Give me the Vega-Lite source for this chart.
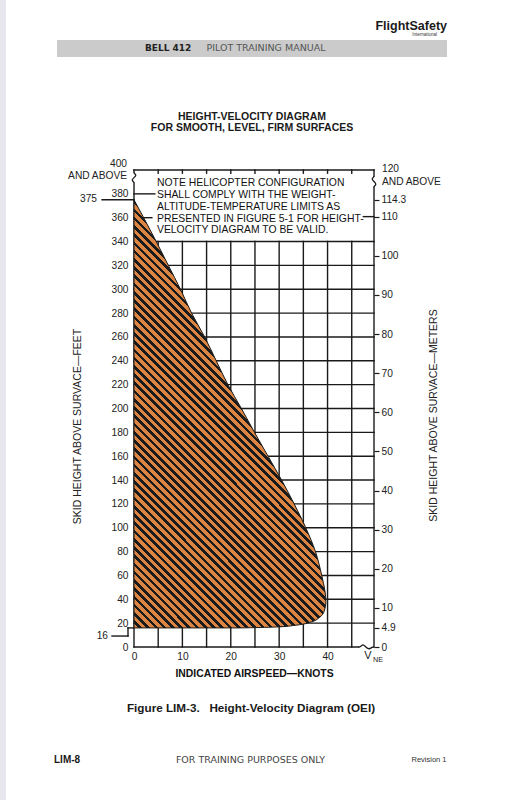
{
 "$schema": "https://vega.github.io/schema/vega-lite/v6.json",
 "width": 240,
 "height": 477,
 "autosize": {"type": "none"},
 "padding": {"left": 134, "top": 170, "right": 147, "bottom": 153},
 "background": "white",
 "config": {"view": {"stroke": null}, "font": "Liberation Sans", "axis": {"labelFont": "Liberation Sans", "titleFont": "Liberation Sans"}, "text": {"font": "Liberation Sans"}},
 "datasets": {
  "edge": [{"kn": -27.69, "kn2": -26.45, "ft": 542.5, "ft2": -129.4}],
  "band": [{"kn": -15.91, "kn2": 64.69, "ft": 509.0, "ft2": 494.8}],
  "rules": [
   {"kn": 0, "kn2": 0, "ft": 0, "ft2": 389},
   {"kn": 0, "kn2": 0, "ft": 398, "ft2": 400},
   {"kn": 0, "kn2": 49.6, "ft": 400, "ft2": 400},
   {"kn": 49.6, "kn2": 49.6, "ft": 0, "ft2": 385.5},
   {"kn": 49.6, "kn2": 49.6, "ft": 395, "ft2": 400},
   {"kn": 0, "kn2": 46.4, "ft": 0, "ft2": 0},
   {"kn": 0, "kn2": 49.6, "ft": 20, "ft2": 20},
   {"kn": 0, "kn2": 49.6, "ft": 40, "ft2": 40},
   {"kn": 0, "kn2": 49.6, "ft": 60, "ft2": 60},
   {"kn": 0, "kn2": 49.6, "ft": 80, "ft2": 80},
   {"kn": 0, "kn2": 49.6, "ft": 100, "ft2": 100},
   {"kn": 0, "kn2": 49.6, "ft": 120, "ft2": 120},
   {"kn": 0, "kn2": 49.6, "ft": 140, "ft2": 140},
   {"kn": 0, "kn2": 49.6, "ft": 160, "ft2": 160},
   {"kn": 0, "kn2": 49.6, "ft": 180, "ft2": 180},
   {"kn": 0, "kn2": 49.6, "ft": 200, "ft2": 200},
   {"kn": 0, "kn2": 49.6, "ft": 220, "ft2": 220},
   {"kn": 0, "kn2": 49.6, "ft": 240, "ft2": 240},
   {"kn": 0, "kn2": 49.6, "ft": 260, "ft2": 260},
   {"kn": 0, "kn2": 49.6, "ft": 280, "ft2": 280},
   {"kn": 0, "kn2": 49.6, "ft": 300, "ft2": 300},
   {"kn": 0, "kn2": 49.6, "ft": 320, "ft2": 320},
   {"kn": 0, "kn2": 49.6, "ft": 340, "ft2": 340},
   {"kn": 5, "kn2": 5, "ft": 0, "ft2": 340},
   {"kn": 10, "kn2": 10, "ft": 0, "ft2": 340},
   {"kn": 15, "kn2": 15, "ft": 0, "ft2": 340},
   {"kn": 20, "kn2": 20, "ft": 0, "ft2": 340},
   {"kn": 25, "kn2": 25, "ft": 0, "ft2": 340},
   {"kn": 30, "kn2": 30, "ft": 0, "ft2": 340},
   {"kn": 35, "kn2": 35, "ft": 0, "ft2": 340},
   {"kn": 40, "kn2": 40, "ft": 0, "ft2": 340},
   {"kn": 45, "kn2": 45, "ft": 0, "ft2": 340},
   {"kn": 5, "kn2": 5, "ft": 397.3, "ft2": 400},
   {"kn": 10, "kn2": 10, "ft": 397.3, "ft2": 400},
   {"kn": 15, "kn2": 15, "ft": 397.3, "ft2": 400},
   {"kn": 20, "kn2": 20, "ft": 397.3, "ft2": 400},
   {"kn": 25, "kn2": 25, "ft": 397.3, "ft2": 400},
   {"kn": 30, "kn2": 30, "ft": 397.3, "ft2": 400},
   {"kn": 35, "kn2": 35, "ft": 397.3, "ft2": 400},
   {"kn": 40, "kn2": 40, "ft": 397.3, "ft2": 400},
   {"kn": 45, "kn2": 45, "ft": 397.3, "ft2": 400},
   {"kn": 0, "kn2": 4.3, "ft": 380, "ft2": 380},
   {"kn": 0, "kn2": 3.7, "ft": 360, "ft2": 360},
   {"kn": 47.4, "kn2": 49.6, "ft": 360.9, "ft2": 360.9},
   {"kn": -6.6, "kn2": 0, "ft": 375, "ft2": 375},
   {"kn": -4.55, "kn2": -1.24, "ft": 9.2, "ft2": 9.2},
   {"kn": -1.24, "kn2": -1.24, "ft": 9.2, "ft2": 16},
   {"kn": -1.24, "kn2": 0, "ft": 16, "ft2": 16}
  ],
  "hatch": [
   {"ft": 16, "kn": 22},
   {"ft": 16.7, "kn": 29},
   {"ft": 18.3, "kn": 33.5},
   {"ft": 21, "kn": 36.6},
   {"ft": 25, "kn": 38.4},
   {"ft": 30, "kn": 39.3},
   {"ft": 38, "kn": 39.65},
   {"ft": 46, "kn": 39.5},
   {"ft": 60, "kn": 38.8},
   {"ft": 80, "kn": 37.5},
   {"ft": 100, "kn": 35.5},
   {"ft": 120, "kn": 33.1},
   {"ft": 140, "kn": 30.5},
   {"ft": 160, "kn": 27.7},
   {"ft": 180, "kn": 24.9},
   {"ft": 200, "kn": 22.2},
   {"ft": 220, "kn": 19.4},
   {"ft": 240, "kn": 17.0},
   {"ft": 260, "kn": 14.6},
   {"ft": 280, "kn": 11.9},
   {"ft": 300, "kn": 9.6},
   {"ft": 320, "kn": 7.1},
   {"ft": 340, "kn": 4.6},
   {"ft": 360, "kn": 2.0},
   {"ft": 375, "kn": 0}
  ],
  "brk": [
   {"g": "L", "i": 0, "kn": 0, "ft": 398},
   {"g": "L", "i": 1, "kn": 0, "ft": 397.2},
   {"g": "L", "i": 2, "kn": 0.55, "ft": 395.8},
   {"g": "L", "i": 3, "kn": 0, "ft": 393.6},
   {"g": "L", "i": 4, "kn": -0.55, "ft": 391.4},
   {"g": "L", "i": 5, "kn": 0, "ft": 390},
   {"g": "L", "i": 6, "kn": 0, "ft": 389},
   {"g": "R", "i": 0, "kn": 49.6, "ft": 395},
   {"g": "R", "i": 1, "kn": 49.6, "ft": 394.2},
   {"g": "R", "i": 2, "kn": 49.05, "ft": 392.6},
   {"g": "R", "i": 3, "kn": 49.6, "ft": 390.3},
   {"g": "R", "i": 4, "kn": 50.15, "ft": 388},
   {"g": "R", "i": 5, "kn": 49.6, "ft": 386.3},
   {"g": "R", "i": 6, "kn": 49.6, "ft": 385.5},
   {"g": "B", "i": 0, "kn": 46.4, "ft": 0},
   {"g": "B", "i": 1, "kn": 46.8, "ft": 0},
   {"g": "B", "i": 2, "kn": 47.3, "ft": 2.6},
   {"g": "B", "i": 3, "kn": 47.9, "ft": 0},
   {"g": "B", "i": 4, "kn": 48.6, "ft": -2.2},
   {"g": "B", "i": 5, "kn": 49.2, "ft": 0},
   {"g": "B", "i": 6, "kn": 49.6, "ft": 0}
  ],
  "lblR": [
   {"kn": -1.45, "ft": 405, "t": "400"},
   {"kn": -1.45, "ft": 395, "t": "AND ABOVE"},
   {"kn": -7.65, "ft": 375.7, "t": "375"},
   {"kn": -5.37, "ft": 9.2, "t": "16"}
  ],
  "lblL": [
   {"kn": 51.25, "ft": 400.8, "t": "120"},
   {"kn": 51.25, "ft": 389.9, "t": "AND ABOVE"}
  ],
  "note": [
   {"kn": 4.75, "ft": 388.9, "t": "NOTE HELICOPTER CONFIGURATION"},
   {"kn": 4.75, "ft": 379.1, "t": "SHALL COMPLY WITH THE WEIGHT-"},
   {"kn": 4.75, "ft": 369.2, "t": "ALTITUDE-TEMPERATURE LIMITS AS"},
   {"kn": 4.75, "ft": 359.1, "t": "PRESENTED IN FIGURE 5-1 FOR HEIGHT-"},
   {"kn": 4.75, "ft": 349.4, "t": "VELOCITY DIAGRAM TO BE VALID."}
  ],
  "vne": [{"kn": 48.36, "ft": -7.5, "t": "V"}],
  "ne": [{"kn": 50.43, "ft": -10.9, "t": "NE"}],
  "title": [
   {"kn": 24.39, "ft": 444.4, "t": "HEIGHT-VELOCITY DIAGRAM"},
   {"kn": 24.39, "ft": 435.2, "t": "FOR SMOOTH, LEVEL, FIRM SURFACES"}
  ],
  "caption": [{"kn": 24.18, "ft": -51.15, "t": "Figure LIM-3.\u00a0\u00a0 Height-Velocity Diagram (OEI)"}],
  "bell": [{"kn": 2.27, "ft": 501.9, "t": "BELL 412"}],
  "ptm": [{"kn": 27.28, "ft": 501.9, "t": "PILOT TRAINING MANUAL"}],
  "fs": [{"kn": 64.69, "ft": 520.8, "t": "FlightSafety"}],
  "intl": [{"kn": 62.62, "ft": 513.2, "t": "International"}],
  "lim": [{"kn": -16.53, "ft": -94.8, "t": "LIM-8"}],
  "ftp": [{"kn": 24.08, "ft": -94.8, "t": "FOR TRAINING PURPOSES ONLY"}],
  "rev": [{"kn": 60.97, "ft": -94.8, "t": "Revision 1"}],
  "mrows": [{"m": 0}, {"m": 121.92}]
 },
 "layer": [
  {
   "layer": [
    {
     "data": {"name": "rules"},
     "mark": {"type": "rule", "color": "#1a1a1a", "strokeWidth": 1.4, "strokeCap": "square"},
     "encoding": {
      "x": {"field": "kn", "type": "quantitative", "scale": {"domain": [0, 49.6], "nice": false, "zero": false},
       "axis": {"values": [0, 10, 20, 30, 40], "tickCount": 20, "domain": false, "ticks": false, "grid": false, "labelFlush": false, "labelOverlap": false, "labelFontSize": 10.2, "labelColor": "#222", "labelPadding": 4, "title": "INDICATED AIRSPEED—KNOTS", "titleFontSize": 10.4, "titleFontWeight": "bold", "titleColor": "#111", "titleY": 26, "titleBaseline": "middle"}},
      "x2": {"field": "kn2"},
      "y": {"field": "ft", "type": "quantitative", "scale": {"domain": [0, 400], "nice": false, "zero": false},
       "axis": {"values": [0, 20, 40, 60, 80, 100, 120, 140, 160, 180, 200, 220, 240, 260, 280, 300, 320, 340, 360, 380], "tickCount": 40, "domain": false, "ticks": false, "grid": false, "labelFlush": false, "labelOverlap": false, "labelFontSize": 10.2, "labelColor": "#222", "labelPadding": 6, "title": "SKID HEIGHT ABOVE SURVACE—FEET", "titleFontSize": 10.5, "titleFontWeight": "normal", "titleColor": "#222", "titleX": -57, "titleY": 256, "titleAngle": 270, "titleAlign": "center", "titleBaseline": "middle"}},
      "y2": {"field": "ft2"}
     }
    },
    {
     "data": {"name": "edge"},
     "mark": {"type": "rect", "fill": "#e6e6ec"},
     "encoding": {
      "x": {"field": "kn", "type": "quantitative", "scale": {"domain": [0, 49.6], "nice": false, "zero": false}},
      "x2": {"field": "kn2"},
      "y": {"field": "ft", "type": "quantitative", "scale": {"domain": [0, 400], "nice": false, "zero": false}},
      "y2": {"field": "ft2"}
     }
    },
    {
     "data": {"name": "band"},
     "mark": {"type": "rect", "fill": "#cbcbcb"},
     "encoding": {
      "x": {"field": "kn", "type": "quantitative", "scale": {"domain": [0, 49.6], "nice": false, "zero": false}},
      "x2": {"field": "kn2"},
      "y": {"field": "ft", "type": "quantitative", "scale": {"domain": [0, 400], "nice": false, "zero": false}},
      "y2": {"field": "ft2"}
     }
    },
    {
     "data": {"name": "hatch"},
     "mark": {
      "type": "area", "orient": "horizontal", "interpolate": "monotone", "stroke": "#1a1a1a", "strokeWidth": 1,
      "fill": {"gradient": "linear", "x1": 0, "y1": 1, "x2": 0.3733, "y2": 0.1674, "stops": [
       {"offset": 0, "color": "#dc8441"}, {"offset": 0.0106, "color": "#dc8441"}, {"offset": 0.0106, "color": "#1a1a1a"}, {"offset": 0.0192, "color": "#1a1a1a"},
       {"offset": 0.0192, "color": "#dc8441"}, {"offset": 0.0298, "color": "#dc8441"}, {"offset": 0.0298, "color": "#1a1a1a"}, {"offset": 0.0385, "color": "#1a1a1a"},
       {"offset": 0.0385, "color": "#dc8441"}, {"offset": 0.0491, "color": "#dc8441"}, {"offset": 0.0491, "color": "#1a1a1a"}, {"offset": 0.0577, "color": "#1a1a1a"},
       {"offset": 0.0577, "color": "#dc8441"}, {"offset": 0.0683, "color": "#dc8441"}, {"offset": 0.0683, "color": "#1a1a1a"}, {"offset": 0.0769, "color": "#1a1a1a"},
       {"offset": 0.0769, "color": "#dc8441"}, {"offset": 0.0875, "color": "#dc8441"}, {"offset": 0.0875, "color": "#1a1a1a"}, {"offset": 0.0962, "color": "#1a1a1a"},
       {"offset": 0.0962, "color": "#dc8441"}, {"offset": 0.1068, "color": "#dc8441"}, {"offset": 0.1068, "color": "#1a1a1a"}, {"offset": 0.1154, "color": "#1a1a1a"},
       {"offset": 0.1154, "color": "#dc8441"}, {"offset": 0.126, "color": "#dc8441"}, {"offset": 0.126, "color": "#1a1a1a"}, {"offset": 0.1346, "color": "#1a1a1a"},
       {"offset": 0.1346, "color": "#dc8441"}, {"offset": 0.1452, "color": "#dc8441"}, {"offset": 0.1452, "color": "#1a1a1a"}, {"offset": 0.1538, "color": "#1a1a1a"},
       {"offset": 0.1538, "color": "#dc8441"}, {"offset": 0.1644, "color": "#dc8441"}, {"offset": 0.1644, "color": "#1a1a1a"}, {"offset": 0.1731, "color": "#1a1a1a"},
       {"offset": 0.1731, "color": "#dc8441"}, {"offset": 0.1837, "color": "#dc8441"}, {"offset": 0.1837, "color": "#1a1a1a"}, {"offset": 0.1923, "color": "#1a1a1a"},
       {"offset": 0.1923, "color": "#dc8441"}, {"offset": 0.2029, "color": "#dc8441"}, {"offset": 0.2029, "color": "#1a1a1a"}, {"offset": 0.2115, "color": "#1a1a1a"},
       {"offset": 0.2115, "color": "#dc8441"}, {"offset": 0.2221, "color": "#dc8441"}, {"offset": 0.2221, "color": "#1a1a1a"}, {"offset": 0.2308, "color": "#1a1a1a"},
       {"offset": 0.2308, "color": "#dc8441"}, {"offset": 0.2414, "color": "#dc8441"}, {"offset": 0.2414, "color": "#1a1a1a"}, {"offset": 0.25, "color": "#1a1a1a"},
       {"offset": 0.25, "color": "#dc8441"}, {"offset": 0.2606, "color": "#dc8441"}, {"offset": 0.2606, "color": "#1a1a1a"}, {"offset": 0.2692, "color": "#1a1a1a"},
       {"offset": 0.2692, "color": "#dc8441"}, {"offset": 0.2798, "color": "#dc8441"}, {"offset": 0.2798, "color": "#1a1a1a"}, {"offset": 0.2885, "color": "#1a1a1a"},
       {"offset": 0.2885, "color": "#dc8441"}, {"offset": 0.2991, "color": "#dc8441"}, {"offset": 0.2991, "color": "#1a1a1a"}, {"offset": 0.3077, "color": "#1a1a1a"},
       {"offset": 0.3077, "color": "#dc8441"}, {"offset": 0.3183, "color": "#dc8441"}, {"offset": 0.3183, "color": "#1a1a1a"}, {"offset": 0.3269, "color": "#1a1a1a"},
       {"offset": 0.3269, "color": "#dc8441"}, {"offset": 0.3375, "color": "#dc8441"}, {"offset": 0.3375, "color": "#1a1a1a"}, {"offset": 0.3462, "color": "#1a1a1a"},
       {"offset": 0.3462, "color": "#dc8441"}, {"offset": 0.3568, "color": "#dc8441"}, {"offset": 0.3568, "color": "#1a1a1a"}, {"offset": 0.3654, "color": "#1a1a1a"},
       {"offset": 0.3654, "color": "#dc8441"}, {"offset": 0.376, "color": "#dc8441"}, {"offset": 0.376, "color": "#1a1a1a"}, {"offset": 0.3846, "color": "#1a1a1a"},
       {"offset": 0.3846, "color": "#dc8441"}, {"offset": 0.3952, "color": "#dc8441"}, {"offset": 0.3952, "color": "#1a1a1a"}, {"offset": 0.4038, "color": "#1a1a1a"},
       {"offset": 0.4038, "color": "#dc8441"}, {"offset": 0.4144, "color": "#dc8441"}, {"offset": 0.4144, "color": "#1a1a1a"}, {"offset": 0.4231, "color": "#1a1a1a"},
       {"offset": 0.4231, "color": "#dc8441"}, {"offset": 0.4337, "color": "#dc8441"}, {"offset": 0.4337, "color": "#1a1a1a"}, {"offset": 0.4423, "color": "#1a1a1a"},
       {"offset": 0.4423, "color": "#dc8441"}, {"offset": 0.4529, "color": "#dc8441"}, {"offset": 0.4529, "color": "#1a1a1a"}, {"offset": 0.4615, "color": "#1a1a1a"},
       {"offset": 0.4615, "color": "#dc8441"}, {"offset": 0.4721, "color": "#dc8441"}, {"offset": 0.4721, "color": "#1a1a1a"}, {"offset": 0.4808, "color": "#1a1a1a"},
       {"offset": 0.4808, "color": "#dc8441"}, {"offset": 0.4914, "color": "#dc8441"}, {"offset": 0.4914, "color": "#1a1a1a"}, {"offset": 0.5, "color": "#1a1a1a"},
       {"offset": 0.5, "color": "#dc8441"}, {"offset": 0.5106, "color": "#dc8441"}, {"offset": 0.5106, "color": "#1a1a1a"}, {"offset": 0.5192, "color": "#1a1a1a"},
       {"offset": 0.5192, "color": "#dc8441"}, {"offset": 0.5298, "color": "#dc8441"}, {"offset": 0.5298, "color": "#1a1a1a"}, {"offset": 0.5385, "color": "#1a1a1a"},
       {"offset": 0.5385, "color": "#dc8441"}, {"offset": 0.5491, "color": "#dc8441"}, {"offset": 0.5491, "color": "#1a1a1a"}, {"offset": 0.5577, "color": "#1a1a1a"},
       {"offset": 0.5577, "color": "#dc8441"}, {"offset": 0.5683, "color": "#dc8441"}, {"offset": 0.5683, "color": "#1a1a1a"}, {"offset": 0.5769, "color": "#1a1a1a"},
       {"offset": 0.5769, "color": "#dc8441"}, {"offset": 0.5875, "color": "#dc8441"}, {"offset": 0.5875, "color": "#1a1a1a"}, {"offset": 0.5962, "color": "#1a1a1a"},
       {"offset": 0.5962, "color": "#dc8441"}, {"offset": 0.6068, "color": "#dc8441"}, {"offset": 0.6068, "color": "#1a1a1a"}, {"offset": 0.6154, "color": "#1a1a1a"},
       {"offset": 0.6154, "color": "#dc8441"}, {"offset": 0.626, "color": "#dc8441"}, {"offset": 0.626, "color": "#1a1a1a"}, {"offset": 0.6346, "color": "#1a1a1a"},
       {"offset": 0.6346, "color": "#dc8441"}, {"offset": 0.6452, "color": "#dc8441"}, {"offset": 0.6452, "color": "#1a1a1a"}, {"offset": 0.6538, "color": "#1a1a1a"},
       {"offset": 0.6538, "color": "#dc8441"}, {"offset": 0.6644, "color": "#dc8441"}, {"offset": 0.6644, "color": "#1a1a1a"}, {"offset": 0.6731, "color": "#1a1a1a"},
       {"offset": 0.6731, "color": "#dc8441"}, {"offset": 0.6837, "color": "#dc8441"}, {"offset": 0.6837, "color": "#1a1a1a"}, {"offset": 0.6923, "color": "#1a1a1a"},
       {"offset": 0.6923, "color": "#dc8441"}, {"offset": 0.7029, "color": "#dc8441"}, {"offset": 0.7029, "color": "#1a1a1a"}, {"offset": 0.7115, "color": "#1a1a1a"},
       {"offset": 0.7115, "color": "#dc8441"}, {"offset": 0.7221, "color": "#dc8441"}, {"offset": 0.7221, "color": "#1a1a1a"}, {"offset": 0.7308, "color": "#1a1a1a"},
       {"offset": 0.7308, "color": "#dc8441"}, {"offset": 0.7414, "color": "#dc8441"}, {"offset": 0.7414, "color": "#1a1a1a"}, {"offset": 0.75, "color": "#1a1a1a"},
       {"offset": 0.75, "color": "#dc8441"}, {"offset": 0.7606, "color": "#dc8441"}, {"offset": 0.7606, "color": "#1a1a1a"}, {"offset": 0.7692, "color": "#1a1a1a"},
       {"offset": 0.7692, "color": "#dc8441"}, {"offset": 0.7798, "color": "#dc8441"}, {"offset": 0.7798, "color": "#1a1a1a"}, {"offset": 0.7885, "color": "#1a1a1a"},
       {"offset": 0.7885, "color": "#dc8441"}, {"offset": 0.7991, "color": "#dc8441"}, {"offset": 0.7991, "color": "#1a1a1a"}, {"offset": 0.8077, "color": "#1a1a1a"},
       {"offset": 0.8077, "color": "#dc8441"}, {"offset": 0.8183, "color": "#dc8441"}, {"offset": 0.8183, "color": "#1a1a1a"}, {"offset": 0.8269, "color": "#1a1a1a"},
       {"offset": 0.8269, "color": "#dc8441"}, {"offset": 0.8375, "color": "#dc8441"}, {"offset": 0.8375, "color": "#1a1a1a"}, {"offset": 0.8462, "color": "#1a1a1a"},
       {"offset": 0.8462, "color": "#dc8441"}, {"offset": 0.8568, "color": "#dc8441"}, {"offset": 0.8568, "color": "#1a1a1a"}, {"offset": 0.8654, "color": "#1a1a1a"},
       {"offset": 0.8654, "color": "#dc8441"}, {"offset": 0.876, "color": "#dc8441"}, {"offset": 0.876, "color": "#1a1a1a"}, {"offset": 0.8846, "color": "#1a1a1a"},
       {"offset": 0.8846, "color": "#dc8441"}, {"offset": 0.8952, "color": "#dc8441"}, {"offset": 0.8952, "color": "#1a1a1a"}, {"offset": 0.9038, "color": "#1a1a1a"},
       {"offset": 0.9038, "color": "#dc8441"}, {"offset": 0.9144, "color": "#dc8441"}, {"offset": 0.9144, "color": "#1a1a1a"}, {"offset": 0.9231, "color": "#1a1a1a"},
       {"offset": 0.9231, "color": "#dc8441"}, {"offset": 0.9337, "color": "#dc8441"}, {"offset": 0.9337, "color": "#1a1a1a"}, {"offset": 0.9423, "color": "#1a1a1a"},
       {"offset": 0.9423, "color": "#dc8441"}, {"offset": 0.9529, "color": "#dc8441"}, {"offset": 0.9529, "color": "#1a1a1a"}, {"offset": 0.9615, "color": "#1a1a1a"},
       {"offset": 0.9615, "color": "#dc8441"}, {"offset": 0.9721, "color": "#dc8441"}, {"offset": 0.9721, "color": "#1a1a1a"}, {"offset": 0.9808, "color": "#1a1a1a"},
       {"offset": 0.9808, "color": "#dc8441"}, {"offset": 0.9914, "color": "#dc8441"}, {"offset": 0.9914, "color": "#1a1a1a"}, {"offset": 1, "color": "#1a1a1a"}
      ]}
     },
     "encoding": {
      "x": {"field": "kn", "type": "quantitative", "stack": null, "scale": {"domain": [0, 49.6], "nice": false, "zero": false}},
      "y": {"field": "ft", "type": "quantitative", "scale": {"domain": [0, 400], "nice": false, "zero": false}}
     }
    },
    {
     "data": {"name": "brk"},
     "mark": {"type": "line", "interpolate": "basis", "color": "#1a1a1a", "strokeWidth": 1.3},
     "encoding": {
      "x": {"field": "kn", "type": "quantitative", "scale": {"domain": [0, 49.6], "nice": false, "zero": false}},
      "y": {"field": "ft", "type": "quantitative", "scale": {"domain": [0, 400], "nice": false, "zero": false}},
      "detail": {"field": "g"},
      "order": {"field": "i"}
     }
    },
    {
     "data": {"name": "lblR"},
     "mark": {"type": "text", "align": "right", "baseline": "middle", "fontSize": 10.2, "color": "#222"},
     "encoding": {
      "x": {"field": "kn", "type": "quantitative", "scale": {"domain": [0, 49.6], "nice": false, "zero": false}},
      "y": {"field": "ft", "type": "quantitative", "scale": {"domain": [0, 400], "nice": false, "zero": false}},
      "text": {"field": "t"}
     }
    },
    {
     "data": {"name": "lblL"},
     "mark": {"type": "text", "align": "left", "baseline": "middle", "fontSize": 10.2, "color": "#222"},
     "encoding": {
      "x": {"field": "kn", "type": "quantitative", "scale": {"domain": [0, 49.6], "nice": false, "zero": false}},
      "y": {"field": "ft", "type": "quantitative", "scale": {"domain": [0, 400], "nice": false, "zero": false}},
      "text": {"field": "t"}
     }
    },
    {
     "data": {"name": "note"},
     "mark": {"type": "text", "align": "left", "baseline": "middle", "fontSize": 10.4, "color": "#111"},
     "encoding": {
      "x": {"field": "kn", "type": "quantitative", "scale": {"domain": [0, 49.6], "nice": false, "zero": false}},
      "y": {"field": "ft", "type": "quantitative", "scale": {"domain": [0, 400], "nice": false, "zero": false}},
      "text": {"field": "t"}
     }
    },
    {
     "data": {"name": "vne"},
     "mark": {"type": "text", "align": "center", "baseline": "middle", "fontSize": 11, "color": "#222"},
     "encoding": {
      "x": {"field": "kn", "type": "quantitative", "scale": {"domain": [0, 49.6], "nice": false, "zero": false}},
      "y": {"field": "ft", "type": "quantitative", "scale": {"domain": [0, 400], "nice": false, "zero": false}},
      "text": {"field": "t"}
     }
    },
    {
     "data": {"name": "ne"},
     "mark": {"type": "text", "align": "center", "baseline": "middle", "fontSize": 7.2, "color": "#222"},
     "encoding": {
      "x": {"field": "kn", "type": "quantitative", "scale": {"domain": [0, 49.6], "nice": false, "zero": false}},
      "y": {"field": "ft", "type": "quantitative", "scale": {"domain": [0, 400], "nice": false, "zero": false}},
      "text": {"field": "t"}
     }
    },
    {
     "data": {"name": "title"},
     "mark": {"type": "text", "align": "center", "baseline": "middle", "fontSize": 10.5, "fontWeight": "bold", "color": "#1a1a1a"},
     "encoding": {
      "x": {"field": "kn", "type": "quantitative", "scale": {"domain": [0, 49.6], "nice": false, "zero": false}},
      "y": {"field": "ft", "type": "quantitative", "scale": {"domain": [0, 400], "nice": false, "zero": false}},
      "text": {"field": "t"}
     }
    },
    {
     "data": {"name": "caption"},
     "mark": {"type": "text", "align": "center", "baseline": "middle", "fontSize": 11.7, "fontWeight": "bold", "color": "#1a1a1a"},
     "encoding": {
      "x": {"field": "kn", "type": "quantitative", "scale": {"domain": [0, 49.6], "nice": false, "zero": false}},
      "y": {"field": "ft", "type": "quantitative", "scale": {"domain": [0, 400], "nice": false, "zero": false}},
      "text": {"field": "t"}
     }
    },
    {
     "data": {"name": "bell"},
     "mark": {"type": "text", "align": "left", "baseline": "middle", "fontSize": 9, "fontWeight": "bold", "font": "DejaVu Sans", "color": "#222"},
     "encoding": {
      "x": {"field": "kn", "type": "quantitative", "scale": {"domain": [0, 49.6], "nice": false, "zero": false}},
      "y": {"field": "ft", "type": "quantitative", "scale": {"domain": [0, 400], "nice": false, "zero": false}},
      "text": {"field": "t"}
     }
    },
    {
     "data": {"name": "ptm"},
     "mark": {"type": "text", "align": "center", "baseline": "middle", "fontSize": 9.5, "font": "DejaVu Sans", "color": "#555"},
     "encoding": {
      "x": {"field": "kn", "type": "quantitative", "scale": {"domain": [0, 49.6], "nice": false, "zero": false}},
      "y": {"field": "ft", "type": "quantitative", "scale": {"domain": [0, 400], "nice": false, "zero": false}},
      "text": {"field": "t"}
     }
    },
    {
     "data": {"name": "fs"},
     "mark": {"type": "text", "align": "right", "baseline": "middle", "fontSize": 12.5, "fontWeight": "bold", "color": "#1a1a1a"},
     "encoding": {
      "x": {"field": "kn", "type": "quantitative", "scale": {"domain": [0, 49.6], "nice": false, "zero": false}},
      "y": {"field": "ft", "type": "quantitative", "scale": {"domain": [0, 400], "nice": false, "zero": false}},
      "text": {"field": "t"}
     }
    },
    {
     "data": {"name": "intl"},
     "mark": {"type": "text", "align": "right", "baseline": "middle", "fontSize": 4.5, "color": "#333"},
     "encoding": {
      "x": {"field": "kn", "type": "quantitative", "scale": {"domain": [0, 49.6], "nice": false, "zero": false}},
      "y": {"field": "ft", "type": "quantitative", "scale": {"domain": [0, 400], "nice": false, "zero": false}},
      "text": {"field": "t"}
     }
    },
    {
     "data": {"name": "lim"},
     "mark": {"type": "text", "align": "left", "baseline": "middle", "fontSize": 10, "fontWeight": "bold", "color": "#1a1a1a"},
     "encoding": {
      "x": {"field": "kn", "type": "quantitative", "scale": {"domain": [0, 49.6], "nice": false, "zero": false}},
      "y": {"field": "ft", "type": "quantitative", "scale": {"domain": [0, 400], "nice": false, "zero": false}},
      "text": {"field": "t"}
     }
    },
    {
     "data": {"name": "ftp"},
     "mark": {"type": "text", "align": "center", "baseline": "middle", "fontSize": 9.5, "font": "DejaVu Sans", "color": "#444"},
     "encoding": {
      "x": {"field": "kn", "type": "quantitative", "scale": {"domain": [0, 49.6], "nice": false, "zero": false}},
      "y": {"field": "ft", "type": "quantitative", "scale": {"domain": [0, 400], "nice": false, "zero": false}},
      "text": {"field": "t"}
     }
    },
    {
     "data": {"name": "rev"},
     "mark": {"type": "text", "align": "center", "baseline": "middle", "fontSize": 7.5, "color": "#333"},
     "encoding": {
      "x": {"field": "kn", "type": "quantitative", "scale": {"domain": [0, 49.6], "nice": false, "zero": false}},
      "y": {"field": "ft", "type": "quantitative", "scale": {"domain": [0, 400], "nice": false, "zero": false}},
      "text": {"field": "t"}
     }
    }
   ]
  },
  {
   "data": {"name": "mrows"},
   "mark": {"type": "rule", "opacity": 0},
   "encoding": {
    "y": {"field": "m", "type": "quantitative", "scale": {"domain": [0, 121.92], "nice": false, "zero": false},
     "axis": {"orient": "right", "values": [0, 4.9, 10, 20, 30, 40, 50, 60, 70, 80, 90, 100, 110, 114.3], "tickCount": 30, "format": ".1~f", "domain": false, "ticks": true, "tickSize": 5, "tickWidth": 1.2, "tickColor": "#1a1a1a", "grid": false, "labelFlush": false, "labelOverlap": false, "labelFontSize": 10.2, "labelColor": "#222", "labelPadding": 2, "title": "SKID HEIGHT ABOVE SURVACE—METERS", "titleFontSize": 10.5, "titleFontWeight": "normal", "titleColor": "#222", "titleX": 59, "titleY": 245, "titleAngle": 270, "titleAlign": "center", "titleBaseline": "middle"}}
   }
  }
 ],
 "resolve": {"scale": {"y": "independent"}}
}
